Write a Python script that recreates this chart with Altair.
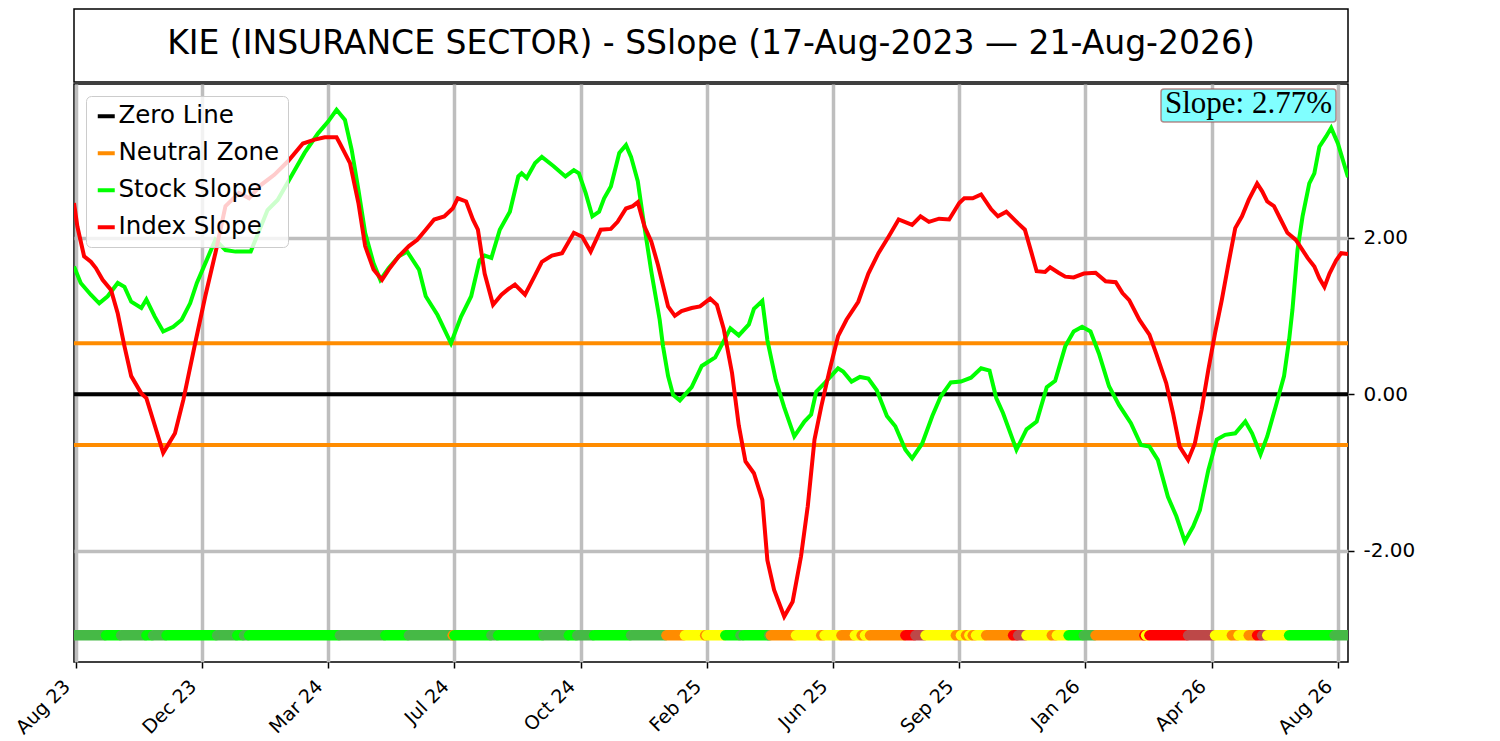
import altair as alt
import pandas as pd

TITLE = "KIE (INSURANCE SECTOR) - SSlope (17-Aug-2023 \u2014 21-Aug-2026)"
SLOPE_LABEL = "Slope: 2.77%"

TICK_DAYS = [1, 76, 151, 226, 301, 376, 451, 526, 601, 676, 751]
TICK_LABELS = ["Aug 23", "Dec 23", "Mar 24", "Jul 24", "Oct 24", "Feb 25",
               "Jun 25", "Sep 25", "Jan 26", "Apr 26", "Aug 26"]
LAST_DAY = 757

STOCK_DAY = [0, 4, 10, 15, 20, 26, 30, 34, 40, 43, 48, 53, 59, 64, 69, 73, 78, 84, 90, 96,
             105, 115, 121, 129, 137, 145, 151, 156, 161, 165, 169, 173, 178, 182, 187, 193,
             198, 205, 209, 216, 224, 230, 236, 241, 244, 248, 253, 259, 264, 266, 269, 274,
             278, 285, 292, 297, 300, 304, 308, 312, 315, 319, 324, 328, 331, 335, 338, 343,
             348, 350, 353, 356, 360, 367, 373, 381, 390, 395, 401, 404, 409, 412, 417, 422,
             428, 434, 438, 441, 446, 454, 457, 462, 467, 472, 477, 483, 488, 494, 498, 504,
             510, 515, 521, 527, 533, 539, 544, 548, 552, 560, 566, 572, 578, 583, 589, 594,
             599, 604, 609, 615, 621, 628, 634, 639, 644, 650, 655, 660, 665, 669, 674, 679,
             684, 690, 696, 700, 705, 709, 714, 719, 722, 724, 727, 730, 734, 737, 740, 744,
             747, 751, 757]
STOCK_SLOPE = [1.63, 1.42, 1.27, 1.16, 1.25, 1.42, 1.37, 1.18, 1.10, 1.21, 0.99, 0.80, 0.86,
               0.95, 1.16, 1.42, 1.67, 1.97, 1.84, 1.82, 1.82, 2.35, 2.48, 2.78, 3.08, 3.33,
               3.48, 3.63, 3.50, 3.12, 2.61, 2.06, 1.67, 1.46, 1.61, 1.76, 1.82, 1.59, 1.25,
               1.01, 0.65, 0.99, 1.25, 1.71, 1.77, 1.74, 2.10, 2.33, 2.78, 2.82, 2.76, 2.95,
               3.03, 2.91, 2.78, 2.86, 2.82, 2.57, 2.27, 2.33, 2.50, 2.65, 3.08, 3.18, 3.03,
               2.72, 2.27, 1.57, 0.95, 0.61, 0.23, -0.01, -0.08, 0.09, 0.36, 0.47, 0.84, 0.75,
               0.89, 1.09, 1.19, 0.69, 0.18, -0.17, -0.54, -0.35, -0.26, 0.03, 0.14, 0.33,
               0.29, 0.16, 0.22, 0.20, 0.05, -0.28, -0.41, -0.71, -0.82, -0.63, -0.28, -0.03,
               0.15, 0.16, 0.21, 0.33, 0.30, -0.05, -0.24, -0.71, -0.45, -0.35, 0.09, 0.17,
               0.61, 0.80, 0.86, 0.80, 0.52, 0.10, -0.14, -0.37, -0.65, -0.67, -0.84, -1.31,
               -1.56, -1.88, -1.69, -1.48, -0.97, -0.58, -0.52, -0.50, -0.35, -0.50, -0.77,
               -0.54, -0.16, 0.23, 0.69, 1.08, 1.84, 2.27, 2.69, 2.82, 3.16, 3.29, 3.40, 3.20,
               2.77]

INDEX_DAY = [0, 2, 6, 10, 13, 17, 22, 26, 30, 34, 40, 43, 47, 53, 60, 65, 72, 78, 84, 90,
             98, 104, 111, 119, 127, 136, 143, 149, 156, 158, 164, 169, 173, 178, 183, 187,
             193, 199, 204, 209, 214, 220, 225, 228, 233, 237, 240, 244, 249, 254, 258, 262,
             268, 274, 278, 284, 290, 297, 302, 307, 313, 319, 323, 328, 332, 335, 339, 343,
             347, 353, 357, 361, 367, 372, 378, 382, 386, 391, 395, 399, 404, 409, 412, 416,
             422, 427, 432, 436, 440, 444, 449, 454, 459, 466, 472, 478, 484, 490, 498, 503,
             508, 514, 520, 526, 529, 534, 539, 545, 549, 554, 561, 565, 569, 572, 577, 580,
             585, 589, 594, 600, 607, 613, 619, 623, 627, 633, 639, 643, 649, 653, 657, 662,
             666, 670, 674, 678, 682, 686, 690, 694, 698, 703, 706, 709, 713, 717, 721, 726,
             730, 733, 737, 740, 743, 746, 750, 753, 757]
INDEX_SLOPE = [2.44, 2.14, 1.76, 1.69, 1.61, 1.46, 1.33, 1.03, 0.61, 0.23, 0.01, -0.05, -0.33,
               -0.75, -0.50, -0.07, 0.65, 1.25, 1.80, 2.40, 2.57, 2.50, 2.67, 2.80, 2.97, 3.20,
               3.25, 3.28, 3.28, 3.20, 2.95, 2.44, 1.89, 1.59, 1.46, 1.59, 1.76, 1.89, 1.97,
               2.10, 2.23, 2.27, 2.37, 2.50, 2.46, 2.23, 2.10, 1.54, 1.14, 1.27, 1.34, 1.40,
               1.27, 1.52, 1.69, 1.77, 1.80, 2.06, 2.01, 1.82, 2.10, 2.11, 2.20, 2.37, 2.40,
               2.45, 2.14, 1.95, 1.65, 1.12, 1.00, 1.06, 1.10, 1.12, 1.22, 1.14, 0.84, 0.27,
               -0.40, -0.86, -1.01, -1.35, -2.12, -2.50, -2.84, -2.65, -2.07, -1.43, -0.58,
               -0.16, 0.31, 0.74, 0.95, 1.18, 1.54, 1.80, 2.01, 2.23, 2.16, 2.27, 2.20, 2.24,
               2.23, 2.44, 2.50, 2.50, 2.55, 2.36, 2.27, 2.33, 2.18, 2.10, 1.80, 1.57, 1.56,
               1.62, 1.55, 1.50, 1.49, 1.54, 1.55, 1.44, 1.43, 1.29, 1.20, 0.95, 0.76, 0.52,
               0.14, -0.24, -0.67, -0.84, -0.63, -0.20, 0.31, 0.78, 1.20, 1.67, 2.12, 2.27,
               2.48, 2.69, 2.59, 2.46, 2.40, 2.23, 2.06, 1.97, 1.84, 1.74, 1.63, 1.48, 1.37,
               1.54, 1.71, 1.80, 1.79]

REF_LEVEL = [0.0, 0.65, -0.65]
REF_NAME = ["Zero Line", "Neutral Zone", "Neutral Zone"]

# daily state strip: first trading day of each run and its state
STATE_START = [0, 19, 28, 43, 47, 55, 85, 97, 101, 104, 158, 185, 199, 225, 226, 248, 252,
               279, 294, 299, 309, 331, 352, 363, 375, 376, 387, 396, 398, 413, 414, 429, 444,
               446, 456, 464, 468, 470, 473, 494, 500, 506, 524, 527, 530, 532, 534, 536, 542,
               558, 561, 566, 581, 584, 591, 600, 607, 636, 637, 639, 662, 678, 688, 692, 698,
               703, 706, 709, 722, 749]
STATE_CODE = ["dg", "g", "dg", "g", "dg", "g", "dg", "g", "dg", "g", "dg", "g", "dg", "o", "g",
              "dg", "g", "dg", "g", "dg", "g", "dg", "o", "y", "o", "y", "g", "dg", "g", "dg",
              "o", "y", "o", "y", "o", "y", "o", "y", "o", "r", "br", "y", "o", "y", "o", "y",
              "o", "y", "o", "r", "br", "y", "o", "y", "g", "dg", "o", "r", "y", "r", "br", "y",
              "o", "y", "o", "r", "br", "y", "g", "dg"]
STATE_COLORS = {"dg": "#46b946", "g": "#00ff00", "o": "#ff8c00", "y": "#ffff00",
                "r": "#ff0000", "br": "#bd4848"}
STRIP_LEVEL = -3.08

SERIES = ["Zero Line", "Neutral Zone", "Stock Slope", "Index Slope"]
SERIES_COLORS = ["#000000", "#ff8c00", "#00ff00", "#ff0000"]

FONT = "DejaVu Sans"
W, H = 1274, 578

stock_df = pd.DataFrame({"day": STOCK_DAY, "slope": STOCK_SLOPE, "series": "Stock Slope"})
index_df = pd.DataFrame({"day": INDEX_DAY, "slope": INDEX_SLOPE, "series": "Index Slope"})
ref_df = pd.DataFrame({"level": REF_LEVEL, "series": REF_NAME})
ends = [s - 1 for s in STATE_START[1:]] + [LAST_DAY]
strip_df = pd.DataFrame({
    "start": STATE_START,
    "end": [max(e, s) for s, e in zip(STATE_START, ends)],
    "hex": [STATE_COLORS[c] for c in STATE_CODE],
    "level": STRIP_LEVEL,
})

xscale = alt.Scale(domain=[0, LAST_DAY], nice=False, zero=False)
yscale = alt.Scale(domain=[-3.42, 3.96], nice=False, zero=False)

label_expr = " : ".join(f"datum.value == {d} ? '{l}'" for d, l in zip(TICK_DAYS, TICK_LABELS)) + " : ''"

xaxis = alt.Axis(values=TICK_DAYS, labelExpr=label_expr, labelAngle=-45, labelAlign="right",
                 labelBaseline="bottom", labelFontSize=19, labelFont=FONT, labelColor="black",
                 tickColor="black", tickSize=6, tickWidth=1.5, labelPadding=22, labelOffset=-2,
                 grid=True, gridColor="#bebebe", gridWidth=3.5, domain=False, title=None)
yaxis = alt.Axis(orient="right", values=[-2, 0, 2],
                 labelExpr="replace(format(datum.value, '.2f'), '\u2212', '-')",
                 labelFontSize=20, labelFont=FONT, labelColor="black", tickColor="black",
                 tickSize=6, tickWidth=1.5, labelPadding=9, grid=True, gridColor="#bebebe",
                 gridWidth=3.5, domain=False, title=None)

color = alt.Color(
    "series:N",
    scale=alt.Scale(domain=SERIES, range=SERIES_COLORS),
    title=None,
    legend=alt.Legend(orient="top-left", offset=12, fillColor="rgba(255,255,255,0.8)",
                      strokeColor="#cccccc", cornerRadius=5, padding=8,
                      labelFontSize=24.5, labelFont=FONT, labelColor="black",
                      labelLimit=400, symbolType="stroke", symbolSize=289,
                      symbolStrokeWidth=4, labelOffset=0, rowPadding=12),
)

ref = alt.Chart(ref_df).mark_rule(strokeWidth=4).encode(
    y=alt.Y("level:Q", scale=yscale, axis=yaxis), color=color)

green = alt.Chart(stock_df).mark_line(strokeWidth=4, clip=True).encode(
    x=alt.X("day:Q", scale=xscale, axis=xaxis),
    y=alt.Y("slope:Q", scale=yscale, axis=yaxis), color=color)

red = alt.Chart(index_df).mark_line(strokeWidth=4, clip=True).encode(
    x=alt.X("day:Q", scale=xscale, axis=xaxis),
    y=alt.Y("slope:Q", scale=yscale, axis=yaxis), color=color)

strip = alt.Chart(strip_df).mark_rule(strokeWidth=10.5, strokeCap="round", clip=True).encode(
    x=alt.X("start:Q", scale=xscale, axis=xaxis), x2="end:Q",
    y=alt.Y("level:Q", scale=yscale, axis=yaxis),
    stroke=alt.Stroke("hex:N", scale=None))

label_df = pd.DataFrame({"t": [SLOPE_LABEL]})
box = alt.Chart(label_df).mark_rect(fill="#80ffff", stroke="#a05a5a", strokeWidth=1.5,
                                    strokeOpacity=0.7, cornerRadius=3).encode(
    x=alt.value(1087), x2=alt.value(1262), y=alt.value(5), y2=alt.value(38))
box_text = alt.Chart(label_df).mark_text(font="Liberation Serif", fontSize=31, align="center",
                                         baseline="alphabetic", color="black").encode(
    text="t:N", x=alt.value(1174.5), y=alt.value(28.5))

main = alt.layer(ref, green, red, strip, box, box_text).properties(width=W, height=H)

title_df = pd.DataFrame({"t": [TITLE]})
title_chart = alt.Chart(title_df).mark_text(font=FONT, fontSize=33, align="center",
                                            baseline="alphabetic", color="black").encode(
    text="t:N", x=alt.value(W / 2), y=alt.value(45)).properties(width=W, height=73)

chart = alt.vconcat(title_chart, main, spacing=0).resolve_scale(
    color="independent"
).resolve_legend(color="independent").properties(
    padding={"left": 3, "top": 0, "right": 5, "bottom": 0}, background="white"
).configure_view(stroke="black", strokeWidth=1.5)

chart.save("out.html", embed_options={"renderer": "svg", "actions": False})
